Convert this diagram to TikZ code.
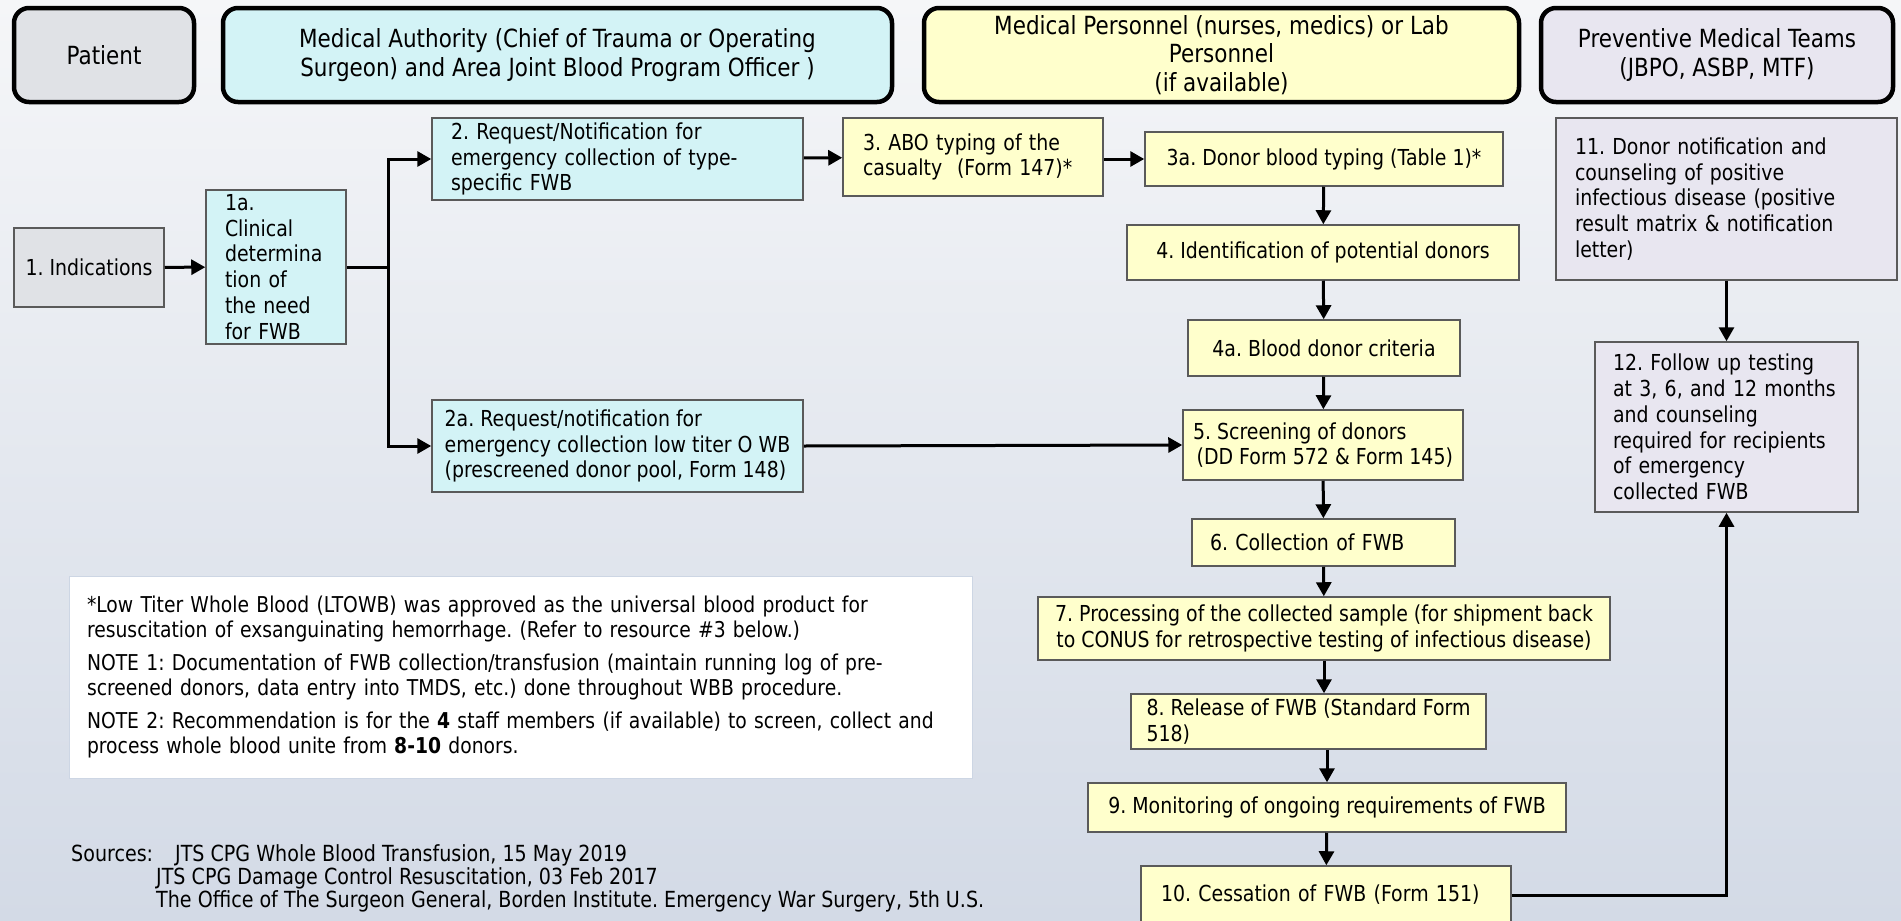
\documentclass[tikz,border=0pt]{standalone}
\usepackage{fontspec}
\setmainfont{DejaVu Sans}[FakeStretch=0.86]
\usepackage{xcolor}
\usetikzlibrary{arrows.meta}
\frenchspacing

\definecolor{bgtop}{RGB}{245,246,248}
\definecolor{bgbot}{RGB}{211,218,230}
\definecolor{patgray}{RGB}{224,226,230}
\definecolor{authcyan}{RGB}{211,243,246}
\definecolor{persyellow}{RGB}{255,255,204}
\definecolor{prevlav}{RGB}{232,230,240}
\definecolor{boxline}{RGB}{90,90,90}
\definecolor{noteline}{RGB}{205,214,228}

\begin{document}
\begin{tikzpicture}[x=1pt, y=-1pt,
    lane/.style={draw=black, line width=4.5pt, rounded corners=15pt, align=center,
        inner sep=0pt, minimum height=94pt, font=\fontsize{25}{28.5}\selectfont},
    stepbox/.style={draw=boxline, line width=1.5pt, inner sep=0pt,
        font=\fontsize{22}{25.8}\selectfont},
    flow/.style={line width=3pt, -{Triangle[length=14pt,width=15pt]}}]
    \useasboundingbox (0,0) rectangle (1901,921);
    \clip (0,0) rectangle (1901,921);
    \shade[top color=bgtop, bottom color=bgbot] (0,0) rectangle (1901,921);

    % Swim lane headers
    \node[lane, fill=patgray, minimum width=180pt] (patient) at (104,55) {Patient};
    \node[lane, fill=authcyan, minimum width=669pt] (authority) at (557.5,55)
        {Medical Authority (Chief of Trauma or Operating\\Surgeon) and Area Joint Blood Program Officer )};
    \node[lane, fill=persyellow, minimum width=595pt] (personnel) at (1221.5,55)
        {Medical Personnel (nurses, medics) or Lab\\Personnel\\(if available)};
    \node[lane, fill=prevlav, minimum width=352pt] (preventive) at (1717,55)
        {Preventive Medical Teams\\(JBPO, ASBP, MTF)};

    % Steps
    \node[stepbox, fill=patgray, minimum width=150pt, minimum height=79pt] (ind) at (89,267.5) {1. Indications};
    \node[stepbox, fill=authcyan, minimum height=154pt, text width=102pt, inner xsep=19pt, align=left] (det) at (276,267)
        {1a.\\Clinical\\determina\\tion of\\the need\\for FWB};
    \node[stepbox, fill=authcyan, minimum height=82pt, text width=333pt, inner xsep=19pt, align=left] (req) at (617.5,159)
        {2. Request/Notification for\\emergency collection of type-\\specific FWB};
    \node[stepbox, fill=authcyan, minimum width=371pt, minimum height=92pt, align=left] (lowtiter) at (617.5,446)
        {2a. Request/notification for\\emergency collection low titer O WB\\(prescreened donor pool, Form 148)};
    \node[stepbox, fill=persyellow, minimum height=78pt, text width=220pt, inner xsep=20pt, align=left] (abo) at (973,157)
        {3. ABO typing of the\\casualty~~(Form 147)*};
    \node[stepbox, fill=persyellow, minimum width=358pt, minimum height=54pt] (donortype) at (1324,159)
        {3a. Donor blood typing (Table 1)*};
    \node[stepbox, fill=persyellow, minimum width=392pt, minimum height=55pt] (ident) at (1323,252.5)
        {4. Identification of potential donors};
    \node[stepbox, fill=persyellow, minimum width=272pt, minimum height=56pt] (criteria) at (1324,348)
        {4a. Blood donor criteria};
    \node[stepbox, fill=persyellow, minimum width=280pt, minimum height=70pt, align=left] (screen) at (1323,445)
        {5. Screening of donors\\\,(DD Form 572 \& Form 145)};
    \node[stepbox, fill=persyellow, minimum height=47pt, text width=227pt, inner xsep=18pt, align=left] (collect) at (1323.5,542.5)
        {6. Collection of FWB};
    \node[stepbox, fill=persyellow, minimum width=572pt, minimum height=63pt, align=center] (process) at (1324,628.5)
        {7. Processing of the collected sample (for shipment back\\to CONUS for retrospective testing of infectious disease)};
    \node[stepbox, fill=persyellow, minimum width=355pt, minimum height=55pt, align=left] (release) at (1308.5,721.5)
        {8. Release of FWB (Standard Form\\518)};
    \node[stepbox, fill=persyellow, minimum width=478pt, minimum height=49pt] (monitor) at (1327,807.5)
        {9. Monitoring of ongoing requirements of FWB};
    \node[stepbox, fill=persyellow, minimum height=58pt, text width=330pt, inner xsep=20pt, align=left] (cease) at (1326,895)
        {10. Cessation of FWB (Form 151)};
    \node[stepbox, fill=prevlav, minimum height=162pt, text width=303pt, inner xsep=19pt, align=left] (notify) at (1726.5,199)
        {11. Donor notification and\\counseling of positive\\infectious disease (positive\\result matrix \& notification\\letter)};
    \node[stepbox, fill=prevlav, minimum height=170pt, text width=227pt, inner xsep=18pt, align=left] (followup) at (1726.5,427)
        {12. Follow up testing\\at 3, 6, and 12 months\\and counseling\\required for recipients\\of emergency\\collected FWB};

    % Notes and sources
    \node[draw=noteline, line width=1pt, fill=white, minimum height=202pt, text width=867pt, inner xsep=18pt, align=left,
        font=\fontsize{21.8}{25}\selectfont] (notes) at (520.5,677)
        {*Low Titer Whole Blood (LTOWB) was approved as the universal blood product for\\
         resuscitation of exsanguinating hemorrhage. (Refer to resource \#3 below.)\\[8pt]
         NOTE 1: Documentation of FWB collection/transfusion (maintain running log of pre-\\
         screened donors, data entry into TMDS, etc.) done throughout WBB procedure.\\[8pt]
         NOTE 2: Recommendation is for the \textbf{4} staff members (if available) to screen, collect and\\
         process whole blood unite from \textbf{8-10} donors.};
    \node[anchor=west, align=left, inner sep=0pt, font=\fontsize{22.2}{23}\selectfont] (sources) at (71,878)
        {Sources:\hspace{22pt}JTS CPG Whole Blood Transfusion, 15 May 2019\\
         \hspace{85pt}JTS CPG Damage Control Resuscitation, 03 Feb 2017\\
         \hspace{85pt}The Office of The Surgeon General, Borden Institute. Emergency War Surgery, 5th U.S.};

    % Edges
    \coordinate (fork) at (388,267);
    \draw[flow] (ind) -- (det);
    \draw[line width=3pt] (det.east) -- (fork);
    \draw[flow] (fork) |- (req.west);
    \draw[flow] (fork) |- (lowtiter.west);
    \draw[flow] (req) -- (abo);
    \draw[flow] (abo.east |- donortype.west) -- (donortype.west);
    \draw[flow] (donortype) -- (ident);
    \draw[flow] (ident) -- (criteria);
    \draw[flow] (criteria) -- (screen);
    \draw[flow] (lowtiter.east) -- (screen.west);
    \draw[flow] (screen) -- (collect);
    \draw[flow] (collect) -- (process);
    \draw[flow] (process.south) -- (process.south |- release.north);
    \draw[flow] (release.south -| monitor.north) -- (monitor.north);
    \draw[flow] (monitor) -- (cease);
    \draw[flow] (notify) -- (followup);
    \draw[flow] (cease.east) -| (followup.south);
\end{tikzpicture}
\end{document}
